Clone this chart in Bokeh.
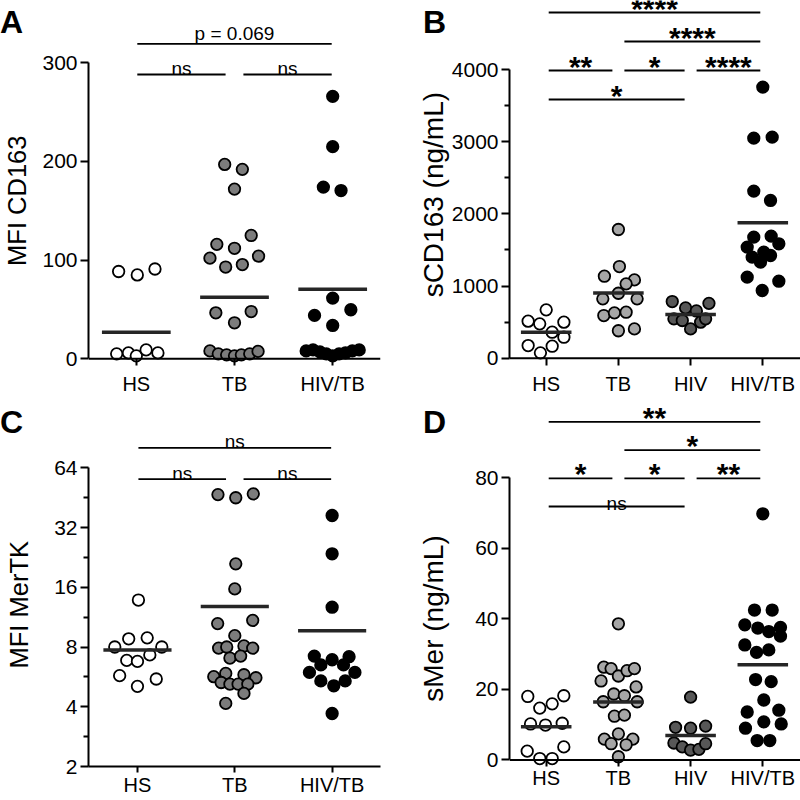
import numpy as np
from bokeh.plotting import figure
from bokeh.models import (ColumnDataSource, Range1d, FixedTicker, Span, PrintfTickFormatter,
                          GridBox, Div)
from bokeh.embed import file_html
from bokeh.resources import INLINE
from bokeh.core.properties import value

FONT = "Liberation Sans"
NB = "\u00a0"

# ---------------- data ----------------
# Panel A : MFI CD163
a_groups = ["HS", "TB", "HIV/TB"]
a_hs = [88.5, 85, 91, 5, 6, 3, 9, 6]
a_hs_dx = [-0.18, 0.01, 0.19, -0.2, -0.08, 0.0, 0.1, 0.22]
a_tb = [197, 192, 172, 125, 116, 112, 102, 104, 93, 95.5, 46.6, 47.9, 36.5, 8, 5, 4, 3, 4, 5, 7.5]
a_tb_dx = [-0.1, 0.08, 0.0, 0.17, -0.18, 0.0, -0.25, 0.245, -0.09, 0.08, -0.19, 0.17, 0.0,
           -0.25, -0.165, -0.08, 0.0, 0.07, 0.155, 0.24]
a_hivtb = [266, 215, 174, 170.5, 61.5, 49.7, 44, 33.8, 8, 9, 7, 5, 3, 5, 6, 8, 9]
a_hivtb_dx = [0.0, 0.0, -0.095, 0.085, 0.0, 0.185, -0.185, 0.0,
              -0.27, -0.2, -0.13, -0.065, 0.0, 0.065, 0.13, 0.2, 0.27]
a_means = [27, 62.5, 70.5]
a_brackets = [("HS", "TB", "ns", 0), ("TB", "HIV/TB", "ns", 0), ("HS", "HIV/TB", "p = 0.069", 1)]

# Panel B : sCD163 (ng/mL)
b_groups = ["HS", "TB", "HIV", "HIV/TB"]
b_hs = [670, 513, 476, 499, 360, 291, 175, 166, 74]
b_hs_dx = [0.0, -0.25, -0.09, 0.245, 0.083, 0.245, -0.25, 0.083, -0.08]
b_tb = [1783, 1270, 1136, 1085, 1030, 900, 822, 822, 591, 628, 637, 380, 406]
b_tb_dx = [0.0, 0.014, -0.194, 0.222, 0.107, 0.0, -0.216, 0.259, -0.202, -0.055, 0.107, 0.0, 0.222]
b_hiv = [785, 697, 655, 760, 545, 522, 406, 499, 546]
b_hiv_dx = [-0.254, -0.069, 0.08, 0.254, -0.231, -0.115, 0.0, 0.139, 0.208]
b_hivtb = [3756, 3049, 3063, 2315, 2186, 1677, 1691, 1539, 1585, 1469, 1400, 1423, 1331, 1123, 1067, 938]
b_hivtb_dx = [0.0, -0.125, 0.13, -0.125, 0.107, -0.125, 0.116, -0.216, 0.222, 0.014,
              -0.147, 0.107, -0.032, -0.216, 0.222, -0.008]
b_means = [360, 905, 605, 1875]
b_brackets = [("HS", "HIV", "*", 0), ("HS", "TB", "**", 1), ("TB", "HIV", "*", 1),
              ("HIV", "HIV/TB", "****", 1), ("TB", "HIV/TB", "****", 2), ("HS", "HIV/TB", "****", 3)]

# Panel C : MFI MerTK (log2 axis)
c_groups = ["HS", "TB", "HIV/TB"]
c_hs = [13.8, 8.8, 8.9, 8.0, 8.0, 6.85, 6.77, 7.3, 5.74, 5.52, 5.07]
c_hs_dx = [0.01, -0.09, 0.1, -0.233, 0.25, -0.11, 0.0, 0.127, -0.183, 0.193, 0.0]
c_tb = [46.9, 45.2, 47.3, 21.0, 15.7, 10.5, 10.9, 9.13, 7.9, 8.0, 8.1, 7.9, 7.04, 7.2,
        5.67, 5.89, 5.3, 5.2, 5.8, 5.6, 5.2, 5.2, 4.67, 4.16]
c_tb_dx = [-0.173, 0.01, 0.19, 0.01, 0.0, -0.176, 0.184, 0.0, -0.166, -0.083, 0.094, 0.184, -0.05, 0.06,
           -0.216, -0.093, -0.14, -0.05, 0.094, 0.217, 0.034, 0.134, 0.094, -0.093]
c_hivtb = [36.8, 23.6, 12.7, 7.2, 7.15, 6.9, 6.5, 6.5, 5.96, 5.96, 5.4, 5.4, 5.1, 3.7]
c_hivtb_dx = [0.0, 0.0, 0.0, -0.183, 0.174, 0.0, -0.116, 0.117, -0.233, 0.234, -0.116, 0.134, 0.017, 0.0]
c_means = [7.73, 12.8, 9.67]
c_brackets = [("HS", "TB", "ns", 0), ("TB", "HIV/TB", "ns", 0), ("HS", "HIV/TB", "ns", 1)]

# Panel D : sMer (ng/mL)
d_groups = ["HS", "TB", "HIV", "HIV/TB"]
d_hs = [18.0, 18.2, 15.9, 14.7, 10.2, 9.9, 10.4, 2.5, 3.7, 0.4, 0.4]
d_hs_dx = [-0.255, 0.244, 0.083, -0.089, -0.217, -0.01, 0.222, -0.263, 0.244, -0.089, 0.083]
d_tb = [38.6, 26.3, 25.9, 23.8, 25.3, 25.9, 22.4, 20.7, 18.7, 18.2, 16.5, 16.5, 12.4, 12.7,
        7.4, 5.9, 5.9, 4.6, 4.3, 0.9]
d_tb_dx = [0.0, -0.202, -0.101, 0.0, 0.12, 0.222, -0.24, 0.245, -0.064, 0.083, -0.21, 0.26, -0.055, 0.083,
           0.0, -0.194, 0.2, -0.1, 0.107, 0.0]
d_hiv = [17.8, 9.25, 9.0, 9.6, 4.8, 3.7, 2.8, 3.0, 4.6]
d_hiv_dx = [0.0, -0.208, 0.0, 0.208, -0.231, -0.115, 0.0, 0.115, 0.208]
d_hivtb = [69.8, 42.5, 42.5, 38.3, 37.4, 36.4, 37.6, 35.1, 32.6, 30.5, 31.2, 22.8, 22.2, 17.0,
           13.6, 14.1, 10.8, 9.0, 10.2, 5.5, 5.5]
d_hivtb_dx = [0.0, -0.115, 0.13, -0.249, -0.069, 0.083, 0.245, 0.245, -0.249, -0.087, 0.083, -0.1, 0.116, 0.014,
              -0.216, 0.222, 0.014, -0.24, 0.255, -0.078, 0.097]
d_means = [9.4, 16.4, 6.9, 27.0]
d_brackets = [("HS", "HIV", "ns", 0), ("HS", "TB", "*", 1), ("TB", "HIV", "*", 1),
              ("HIV", "HIV/TB", "**", 1), ("TB", "HIV/TB", "*", 2), ("HS", "HIV/TB", "**", 3)]

WHITE, GRAY_A, GRAY_L, GRAY_D, BLACK = "#ffffff", "#7c7c7c", "#a6a6a6", "#575757", "#000000"


def build(spec):
    W, H = spec["W"], spec["H"]
    L, R, Bm = spec["left"], spec["right"], spec["bottom"]
    c0, step = spec["c0"], spec["step"]
    groups = spec["groups"]
    ncat = len(groups)
    xs = -(c0 - L) / step
    xe = xs + (R - L) / step
    log = spec.get("log", False)
    tp, tv = spec["top_px"], spec["top_val"]
    zp, zv = spec["zero_px"], spec["zero_val"]
    if log:
        ppu = (zp - tp) / (np.log2(tv) - np.log2(zv))

        def py2v(py):
            return float(2 ** (np.log2(zv) + (zp - py) / ppu))
    else:
        ppu = (zp - tp) / (tv - zv)

        def py2v(py):
            return float(zv + (zp - py) / ppu)

    p = figure(width=W, height=H, x_range=Range1d(xs, xe), y_range=Range1d(py2v(Bm), py2v(0)),
               y_axis_type="log" if log else "linear", output_backend="svg", toolbar_location=None,
               min_border=0, min_border_left=L, min_border_right=W - R, min_border_top=0,
               min_border_bottom=H - Bm)
    p.outline_line_color = None
    p.background_fill_color = "white"
    p.border_fill_color = "white"
    p.xgrid.visible = False
    p.ygrid.visible = False

    xa = p.xaxis[0]
    xa.ticker = FixedTicker(ticks=list(range(ncat)))
    xa.major_label_overrides = {i: g for i, g in enumerate(groups)}
    xa.minor_tick_line_color = None
    xa.major_label_text_font = FONT
    xa.major_label_text_font_size = "20px"
    xa.major_label_text_color = "black"
    xa.major_tick_line_width = 2
    xa.major_tick_line_color = "black"
    if spec["span_axis"]:
        xa.axis_line_color = None
        xa.major_tick_in = int(round(Bm - zp))
        xa.major_tick_out = 0
        xa.major_label_standoff = spec["xstand"]
        p.add_layout(Span(location=0, dimension="width", line_color="black", line_width=2))
    else:
        xa.axis_line_width = 2
        xa.axis_line_color = "black"
        xa.major_tick_in = 0
        xa.major_tick_out = 6
        xa.major_label_standoff = spec["xstand"]

    ya = p.yaxis[0]
    ya.ticker = FixedTicker(ticks=spec["yticks"], minor_ticks=spec.get("yminor", []))
    ya.bounds = spec["ybounds"]
    ya.axis_line_width = 2
    ya.axis_line_color = "black"
    ya.major_tick_in = 0
    ya.major_tick_out = 8
    ya.major_tick_line_width = 2
    ya.major_tick_line_color = "black"
    ya.minor_tick_in = 0
    ya.minor_tick_out = 5
    ya.minor_tick_line_width = 2
    ya.minor_tick_line_color = "black"
    ya.major_label_standoff = 3
    ya.major_label_text_font = FONT
    ya.major_label_text_font_size = "21px"
    ya.major_label_text_color = "black"
    ya.axis_label = spec["ylabel"] + NB * spec["pad"]
    ya.axis_label_text_font = FONT
    ya.axis_label_text_font_size = spec["tsize"]
    ya.axis_label_text_font_style = "normal"
    ya.axis_label_text_color = "black"
    ya.axis_label_standoff = spec["tstand"]
    if log:
        ya.formatter = PrintfTickFormatter(format="%d")

    # points
    for gi, (vals, dxs, col) in enumerate(spec["series"]):
        src = ColumnDataSource(dict(x=[gi + d for d in dxs], y=vals))
        p.scatter("x", "y", source=src, size=11.5, fill_color=col, line_color="black", line_width=1.8)
    # means
    msrc = ColumnDataSource(dict(x0=[i - 0.35 for i in range(ncat)], x1=[i + 0.35 for i in range(ncat)],
                                 y=spec["means"]))
    p.segment(x0="x0", y0="y", x1="x1", y1="y", source=msrc, line_width=3.5, line_color="#262626")

    # significance brackets
    edge, inner = spec["gap_px"]
    seg = dict(x0=[], x1=[], y=[])
    txt_s = dict(x=[], y=[], t=[])
    txt_n = dict(x=[], y=[], t=[])
    for g1, g2, lab, lev in spec["brackets"]:
        i, j = groups.index(g1), groups.index(g2)
        oi = (inner if 0 < i < ncat - 1 else edge) / step
        oj = (inner if 0 < j < ncat - 1 else edge) / step
        x0, x1 = i + oi, j - oj
        lpy = spec["br_base"] - spec["br_step"] * lev
        seg["x0"].append(x0)
        seg["x1"].append(x1)
        seg["y"].append(py2v(lpy))
        if set(lab) == {"*"}:
            txt_s["x"].append((x0 + x1) / 2)
            txt_s["y"].append(py2v(lpy - 4.5))
            txt_s["t"].append(lab)
        else:
            off = 10 if lab.startswith("p") else spec["ns_off"]
            txt_n["x"].append((x0 + x1) / 2)
            txt_n["y"].append(py2v(lpy - off))
            txt_n["t"].append(lab)
    p.segment(x0="x0", y0="y", x1="x1", y1="y", source=ColumnDataSource(seg), line_width=1.8,
              line_color="black")
    if txt_s["x"]:
        p.text(x="x", y="y", text="t", source=ColumnDataSource(txt_s), text_align="center",
               text_baseline="alphabetic", text_font=value(FONT), text_font_size="30px",
               text_font_style="bold", text_color="black")
    if txt_n["x"]:
        p.text(x="x", y="y", text="t", source=ColumnDataSource(txt_n), text_align="center",
               text_baseline="alphabetic", text_font=value(FONT), text_font_size="19px",
               text_color="black")
    return p


pA = build(dict(W=400, H=400, left=85, right=380, bottom=365, c0=133.3, step=99.2, groups=a_groups,
                top_px=62.3, top_val=300, zero_px=358.3, zero_val=0, span_axis=True, xstand=7,
                yticks=[0, 100, 200, 300], ybounds=(0, 300), ylabel="MFI CD163", pad=5,
                tsize="25.5px", tstand=8,
                series=[(a_hs, a_hs_dx, WHITE), (a_tb, a_tb_dx, GRAY_A), (a_hivtb, a_hivtb_dx, BLACK)],
                means=a_means, brackets=a_brackets, gap_px=(1.0, 9.0), br_base=74, br_step=30.7,
                ns_off=6))

pB = build(dict(W=400, H=400, left=109, right=400, bottom=365, c0=145.7, step=72.2, groups=b_groups,
                top_px=69, top_val=4000, zero_px=357.7, zero_val=0, span_axis=True, xstand=7,
                yticks=[0, 1000, 2000, 3000, 4000], yminor=[500, 1500, 2500, 3500], ybounds=(0, 4000),
                ylabel="sCD163 (ng/mL)", pad=3, tsize="28px", tstand=0,
                series=[(b_hs, b_hs_dx, WHITE), (b_tb, b_tb_dx, GRAY_L), (b_hiv, b_hiv_dx, GRAY_D),
                        (b_hivtb, b_hivtb_dx, BLACK)],
                means=b_means, brackets=b_brackets, gap_px=(2.5, 6.0), br_base=99, br_step=29,
                ns_off=4))

pC = build(dict(W=400, H=400, left=83, right=383, bottom=366, c0=133.3, step=100, groups=c_groups,
                log=True, top_px=67.3, top_val=64, zero_px=366, zero_val=2, span_axis=False, xstand=1,
                yticks=[2, 4, 8, 16, 32, 64], yminor=[2.83, 5.66, 11.31, 22.63, 45.25], ybounds=(2, 64),
                ylabel="MFI MerTK", pad=6, tsize="25.5px", tstand=18,
                series=[(c_hs, c_hs_dx, WHITE), (c_tb, c_tb_dx, GRAY_A), (c_hivtb, c_hivtb_dx, BLACK)],
                means=c_means, brackets=c_brackets, gap_px=(1.0, 9.0), br_base=78.7, br_step=31.4,
                ns_off=6))

pD = build(dict(W=400, H=400, left=109, right=400, bottom=374, c0=145.7, step=72.2, groups=d_groups,
                top_px=79, top_val=80, zero_px=367.3, zero_val=0, span_axis=True, xstand=0,
                yticks=[0, 20, 40, 60, 80], ybounds=(0, 80), ylabel="sMer (ng/mL)", pad=9,
                tsize="28px", tstand=23,
                series=[(d_hs, d_hs_dx, WHITE), (d_tb, d_tb_dx, GRAY_L), (d_hiv, d_hiv_dx, GRAY_D),
                        (d_hivtb, d_hivtb_dx, BLACK)],
                means=d_means, brackets=d_brackets, gap_px=(2.5, 6.0), br_base=108.3, br_step=28.8,
                ns_off=3.5))


def letter(txt, pad_left):
    return Div(text=txt, width=60, height=45, align="start",
               styles={"font-family": FONT, "font-size": "32px", "font-weight": "bold",
                       "line-height": "32px", "padding-top": "6px", "padding-left": f"{pad_left}px",
                       "color": "black", "margin": "0"})


grid = GridBox(children=[(pA, 0, 0), (pB, 0, 1), (pC, 1, 0), (pD, 1, 1),
                         (letter("A", 0), 0, 0), (letter("B", 23), 0, 1),
                         (letter("C", 0), 1, 0), (letter("D", 23), 1, 1)])
open("out.html", "w").write(file_html(grid, INLINE))
